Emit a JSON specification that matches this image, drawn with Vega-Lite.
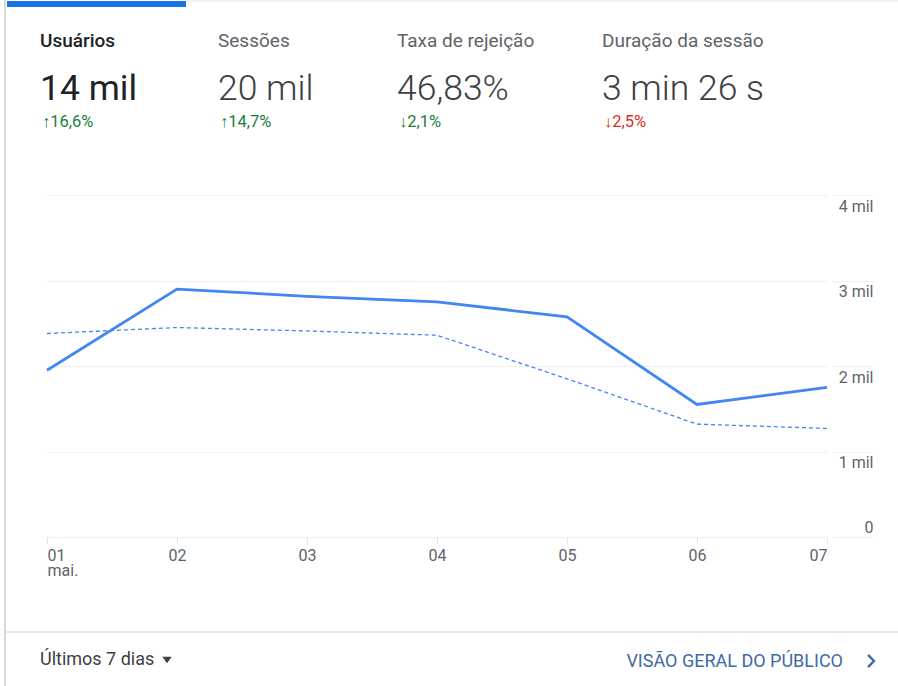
{
  "$schema": "https://vega.github.io/schema/vega-lite/v6.json",
  "width": 780,
  "height": 342,
  "autosize": {"type": "none"},
  "padding": {"left": 47, "top": 195, "right": 71, "bottom": 149},
  "background": "white",
  "config": {"view": {"stroke": null}, "font": "Roboto"},
  "datasets": {
    "serie": [
      {"dia": 1, "periodo": "atual", "usuarios": 1950},
      {"dia": 2, "periodo": "atual", "usuarios": 2900},
      {"dia": 3, "periodo": "atual", "usuarios": 2815},
      {"dia": 4, "periodo": "atual", "usuarios": 2750},
      {"dia": 5, "periodo": "atual", "usuarios": 2575},
      {"dia": 6, "periodo": "atual", "usuarios": 1550},
      {"dia": 7, "periodo": "atual", "usuarios": 1750},
      {"dia": 1, "periodo": "anterior", "usuarios": 2380},
      {"dia": 2, "periodo": "anterior", "usuarios": 2450},
      {"dia": 3, "periodo": "anterior", "usuarios": 2410},
      {"dia": 4, "periodo": "anterior", "usuarios": 2360},
      {"dia": 5, "periodo": "anterior", "usuarios": 1850},
      {"dia": 6, "periodo": "anterior", "usuarios": 1320},
      {"dia": 7, "periodo": "anterior", "usuarios": 1270}
    ],
    "kpi": [
      {"ordem": 1, "metrica": "Usuários", "valor": "14 mil", "variacao": "↑16,6%", "avaliacao": "boa"},
      {"ordem": 2, "metrica": "Sessões", "valor": "20 mil", "variacao": "↑14,7%", "avaliacao": "boa"},
      {"ordem": 3, "metrica": "Taxa de rejeição", "valor": "46,83%", "variacao": "↓2,1%", "avaliacao": "boa"},
      {"ordem": 4, "metrica": "Duração da sessão", "valor": "3 min 26 s", "variacao": "↓2,5%", "avaliacao": "ruim"}
    ],
    "rodape": [
      {"periodo": "Últimos 7 dias", "link": "VISÃO GERAL DO PÚBLICO"}
    ]
  },
  "layer": [
    {
      "data": {"name": "serie"},
      "encoding": {
        "x": {
          "field": "dia",
          "type": "quantitative",
          "scale": {"domain": [1, 7], "nice": false, "zero": false},
          "axis": {
            "title": null,
            "values": [1, 2, 3, 4, 5, 6, 7],
            "labelExpr": "datum.value == 1 ? ['01', 'mai.'] : '0' + datum.value",
            "labelFlush": true,
            "labelFontSize": 16,
            "labelColor": "#5f6368",
            "labelPadding": 3,
            "labelLineHeight": 15,
            "tickSize": 7,
            "tickColor": "#e6e6e6",
            "domain": false,
            "grid": false
          }
        },
        "y": {
          "field": "usuarios",
          "type": "quantitative",
          "scale": {"domain": [0, 4000], "nice": false},
          "axis": {
            "title": null,
            "orient": "right",
            "values": [0, 1000, 2000, 3000, 4000],
            "labelExpr": "datum.value == 0 ? '0' : (datum.value / 1000) + ' mil'",
            "offset": 5,
            "tickSize": 41,
            "tickColor": "#efefef",
            "domain": false,
            "grid": true,
            "gridColor": "#efefef",
            "labelAlign": "right",
            "labelPadding": 0,
            "labelBaseline": "middle",
            "labelOffset": {"condition": {"test": "datum.value === 0", "value": -10}, "value": 11},
            "labelFontSize": 16,
            "labelColor": "#5f6368"
          }
        }
      },
      "layer": [
        {
          "transform": [{"filter": "datum.periodo === 'anterior'"}],
          "mark": {"type": "line", "color": "#4285f4", "strokeWidth": 1.3, "strokeDash": [4, 3]}
        },
        {
          "transform": [{"filter": "datum.periodo === 'atual'"}],
          "mark": {"type": "line", "color": "#4285f4", "strokeWidth": 2.8}
        }
      ]
    },
    {
      "data": {"name": "kpi"},
      "encoding": {
        "x": {
          "field": "ordem",
          "type": "quantitative",
          "scale": {"domain": [1, 2, 3, 4], "range": [-7, 171, 350, 555], "nice": false, "zero": false},
          "axis": null
        }
      },
      "layer": [
        {
          "transform": [{"filter": "datum.ordem === 1"}],
          "mark": {"type": "text", "align": "left", "baseline": "alphabetic", "fontSize": 19, "fontWeight": 500, "color": "#202124", "y": -148},
          "encoding": {"text": {"field": "metrica"}}
        },
        {
          "transform": [{"filter": "datum.ordem !== 1"}],
          "mark": {"type": "text", "align": "left", "baseline": "alphabetic", "fontSize": 19, "fontWeight": 400, "color": "#5f6368", "y": -148},
          "encoding": {"text": {"field": "metrica"}}
        },
        {
          "transform": [{"filter": "datum.ordem === 1"}],
          "mark": {"type": "text", "align": "left", "baseline": "alphabetic", "fontSize": 35.5, "fontWeight": 400, "color": "#202124", "y": -95},
          "encoding": {"text": {"field": "valor"}}
        },
        {
          "transform": [{"filter": "datum.ordem !== 1"}],
          "mark": {"type": "text", "align": "left", "baseline": "alphabetic", "fontSize": 35.5, "fontWeight": 300, "color": "#3c4043", "y": -95},
          "encoding": {"text": {"field": "valor"}}
        },
        {
          "mark": {"type": "text", "align": "left", "baseline": "alphabetic", "fontSize": 16.5, "dx": 2, "y": -68},
          "encoding": {
            "text": {"field": "variacao"},
            "color": {
              "field": "avaliacao",
              "type": "nominal",
              "scale": {"domain": ["boa", "ruim"], "range": ["#188038", "#d93025"]},
              "legend": null
            }
          }
        }
      ]
    },
    {
      "data": {"name": "rodape"},
      "layer": [
        {
          "mark": {"type": "rect", "color": "#1a73e8"},
          "encoding": {"x": {"value": -40}, "x2": {"value": 139}, "y": {"value": -194}, "y2": {"value": -188}}
        },
        {
          "mark": {"type": "rect", "color": "#f3f3f3"},
          "encoding": {"x": {"value": 139}, "x2": {"value": 851}, "y": {"value": -195}, "y2": {"value": -193}}
        },
        {
          "mark": {"type": "rule", "color": "#d9d9d9", "strokeWidth": 2},
          "encoding": {"x": {"value": -42}, "y": {"value": -195}, "y2": {"value": 491}}
        },
        {
          "mark": {"type": "rule", "color": "#e0e0e0", "strokeWidth": 1.5},
          "encoding": {"x": {"value": -41}, "x2": {"value": 851}, "y": {"value": 437}}
        },
        {
          "mark": {"type": "text", "align": "left", "baseline": "alphabetic", "fontSize": 18, "color": "#3c4043", "x": -7, "y": 470},
          "encoding": {"text": {"field": "periodo"}}
        },
        {
          "mark": {"type": "point", "shape": "M-1,-0.67L1,-0.67L0,0.67Z", "filled": true, "size": 90, "color": "#3c4043", "opacity": 1},
          "encoding": {"x": {"value": 120}, "y": {"value": 465}}
        },
        {
          "mark": {"type": "text", "align": "right", "baseline": "alphabetic", "fontSize": 18, "color": "#4169a5", "x": 796, "y": 472},
          "encoding": {"text": {"field": "link"}}
        },
        {
          "mark": {"type": "point", "shape": "M-0.45,-0.95L0.45,0L-0.45,0.95", "filled": false, "size": 169, "strokeWidth": 2.4, "color": "#4169a5", "opacity": 1},
          "encoding": {"x": {"value": 824}, "y": {"value": 466}}
        }
      ]
    }
  ],
  "resolve": {"scale": {"x": "independent"}}
}
